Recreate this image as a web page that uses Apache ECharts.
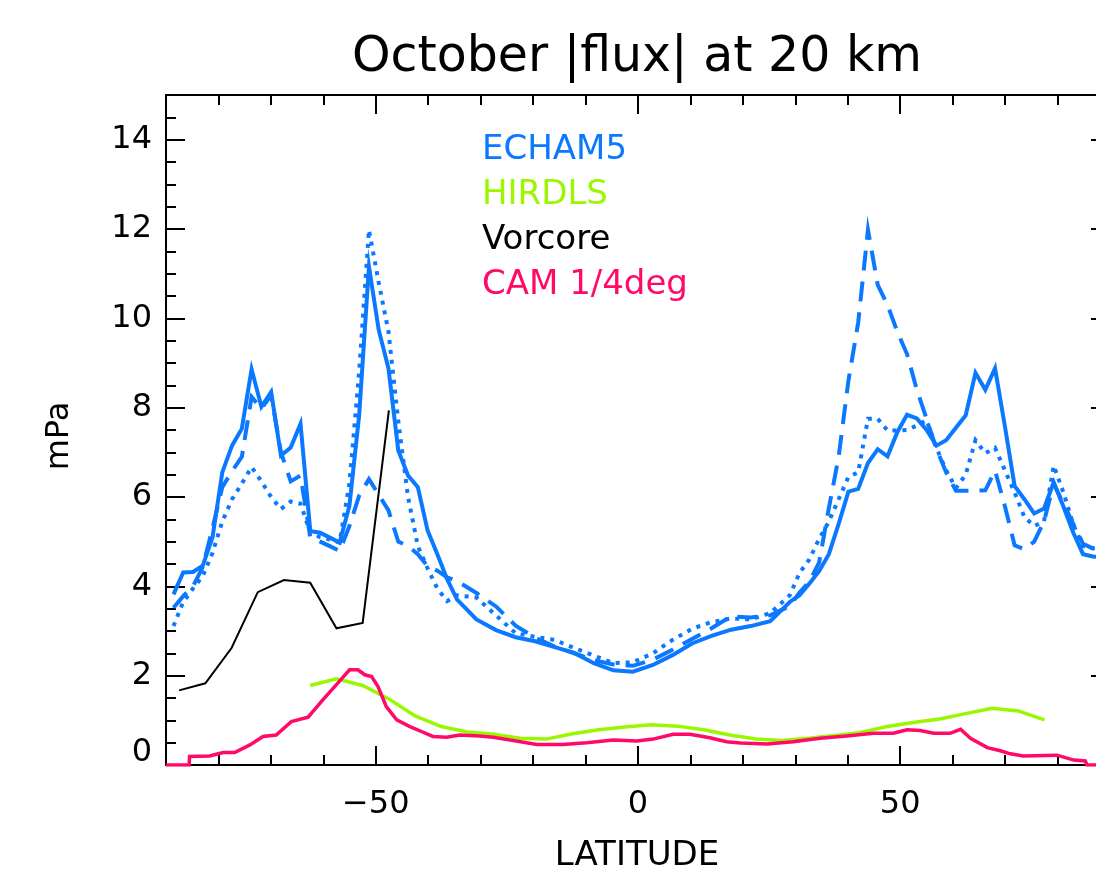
<!DOCTYPE html>
<html>
<head>
<meta charset="utf-8">
<title>October |flux| at 20 km</title>
<script src="https://cdn.jsdelivr.net/npm/echarts@6/dist/echarts.min.js"></script>
<style>
html, body { margin: 0; padding: 0; background: #fff; overflow: hidden; }
#chart { width: 1110px; height: 878px; }
</style>
</head>
<body>
<div id="chart"></div>
<script>
// ECHAM5 latitudes (T63 grid, sparser in the tropics)
var echamLat = [-88.57, -86.72, -84.86, -83.0, -81.13, -79.27, -77.41, -75.54, -73.68, -71.81,
	-69.95, -68.08, -66.22, -64.35, -62.49, -60.62, -58.76, -56.9, -55.03, -53.17,
	-51.3, -49.44, -47.58, -45.71, -43.85, -41.98, -40.12, -38.26, -36.39, -34.53,
	-30.8, -27.07, -23.34, -19.62, -15.89, -12.16, -8.43, -4.7, -0.97, 2.84,
	6.57, 10.3, 14.02, 17.75, 21.48, 25.21, 28.94, 30.8, 32.66, 34.53,
	36.39, 38.26, 40.12, 41.98, 43.85, 45.71, 47.58, 49.44, 51.3, 53.17,
	55.03, 56.9, 58.76, 60.62, 62.49, 64.35, 66.22, 68.08, 69.95, 71.81,
	73.68, 75.54, 77.41, 79.27, 81.13, 83.0, 84.86, 86.72, 88.57];

var echamSolid = [3.82, 4.31, 4.32, 4.46, 5.1, 6.55, 7.15, 7.53, 8.86, 8.02,
	8.35, 6.93, 7.11, 7.64, 5.24, 5.2, 5.09, 4.98, 5.8, 7.83,
	11.16, 9.74, 8.88, 7.04, 6.48, 6.22, 5.25, 4.72, 4.16, 3.71,
	3.26, 3.02, 2.86, 2.77, 2.64, 2.51, 2.28, 2.12, 2.09, 2.24,
	2.46, 2.72, 2.89, 3.03, 3.11, 3.22, 3.65, 3.8, 4.06, 4.34,
	4.72, 5.4, 6.12, 6.18, 6.76, 7.07, 6.91, 7.45, 7.84, 7.76,
	7.5, 7.15, 7.27, 7.55, 7.83, 8.78, 8.4, 8.88, 7.59, 6.25,
	5.95, 5.63, 5.74, 6.33, 5.78, 5.2, 4.72, 4.67, 4.65];

var echamDashed = [3.52, 3.78, 4.0, 4.43, 5.3, 6.22, 6.58, 6.9, 8.24, 7.98,
	8.28, 7.0, 6.35, 6.48, 5.1, 5.0, 4.9, 4.79, 5.35, 6.03,
	6.4, 6.05, 5.7, 5.0, 4.9, 4.72, 4.45, 4.35, 4.2, 4.12,
	3.85, 3.55, 3.12, 2.85, 2.65, 2.5, 2.35, 2.25, 2.22, 2.36,
	2.58, 2.82, 3.06, 3.33, 3.3, 3.35, 3.56, 3.86, 4.1, 4.53,
	5.75, 6.9, 8.6, 9.9, 11.98, 10.75, 10.3, 9.7, 9.2, 8.4,
	7.75, 7.08, 6.55, 6.14, 6.14, 6.14, 6.15, 6.59, 5.8, 4.92,
	4.83, 5.0, 5.45, 6.3, 5.85, 5.4, 4.95, 4.85, 4.8];

var echamDotted = [3.11, 3.65, 3.95, 4.23, 4.75, 5.45, 5.95, 6.3, 6.67, 6.35,
	6.0, 5.73, 5.9, 5.85, 5.2, 5.1, 5.05, 4.98, 6.3, 8.8,
	11.98, 10.8, 9.7, 7.7, 6.0, 4.9, 4.4, 3.95, 3.67, 3.8,
	3.75, 3.35, 2.95, 2.87, 2.8, 2.62, 2.45, 2.28, 2.3, 2.5,
	2.8, 3.05, 3.2, 3.28, 3.26, 3.4, 3.8, 4.3, 4.6, 5.06,
	5.45, 5.95, 6.45, 6.55, 7.75, 7.75, 7.49, 7.49, 7.5, 7.6,
	7.72, 7.1, 6.6, 6.2, 6.5, 7.27, 6.98, 7.1, 6.6, 6.1,
	5.55, 5.35, 5.45, 6.7, 6.1, 5.38, 4.9, 4.85, 4.85];

// HIRDLS, 5 degree bins
var hirdlsLat = [-62.5, -57.5, -52.5, -47.5, -42.5, -37.5, -32.5, -27.5, -22.5, -17.5,
	-12.5, -7.5, -2.5, 2.5, 7.5, 12.5, 17.5, 22.5, 27.5, 32.5,
	37.5, 42.5, 47.5, 52.5, 57.5, 62.5, 67.5, 72.5, 77.5];
var hirdlsVal = [1.78, 1.93, 1.78, 1.48, 1.1, 0.86, 0.74, 0.69, 0.6, 0.58,
	0.7, 0.79, 0.85, 0.9, 0.87, 0.79, 0.67, 0.58, 0.55, 0.6,
	0.66, 0.73, 0.86, 0.95, 1.03, 1.15, 1.27, 1.21, 1.01];

// Vorcore balloons
var vorcoreLat = [-87.5, -82.5, -77.5, -72.5, -67.5, -62.5, -57.5, -52.5, -47.5];
var vorcoreVal = [1.67, 1.83, 2.62, 3.87, 4.14, 4.08, 3.06, 3.18, 7.94];

// CAM 1/4 deg
var camLat = [-90, -85.6, -85.5, -81.7, -79.1, -76.9, -74, -71.5, -69, -66.1,
	-62.9, -60.1, -57.5, -55, -53.4, -52.1, -50.8, -49.6, -48, -46,
	-43.5, -41.3, -39.1, -36.5, -34, -30.2, -27.6, -23.8, -19.3, -14.3,
	-9.8, -4.7, -0.2, 2.9, 6.7, 9.9, 13.7, 16.9, 19.5, 24.6,
	29.6, 34.7, 39.8, 44.9, 48.7, 51.3, 53.8, 56.4, 59.5, 61.5,
	63.4, 66.6, 69.1, 71, 73.5, 79.9, 83.1, 85.3, 85.6, 90];
var camVal = [0, 0, 0.19, 0.2, 0.28, 0.28, 0.45, 0.64, 0.67, 0.97,
	1.07, 1.46, 1.8, 2.13, 2.13, 2.02, 1.98, 1.76, 1.31, 1.01,
	0.86, 0.75, 0.64, 0.62, 0.67, 0.65, 0.62, 0.55, 0.46, 0.46,
	0.5, 0.56, 0.54, 0.58, 0.69, 0.69, 0.61, 0.52, 0.49, 0.47,
	0.52, 0.6, 0.65, 0.71, 0.71, 0.79, 0.77, 0.71, 0.71, 0.8,
	0.6, 0.39, 0.32, 0.25, 0.2, 0.22, 0.11, 0.09, 0, 0];

var xMajor = [-50, 0, 50];

var blue = '#0a78ff', green = '#99f800', pink = '#ff0a68';
var fontName = 'DejaVu Sans';

function pairs(xs, ys) {
	var out = [];
	for (var i = 0; i < xs.length; i++) {
		out.push([xs[i], ys[i]]);
	}
	return out;
}

function lineSeries(name, xs, ys, color, width, type) {
	return {
		name: name,
		type: 'line',
		data: pairs(xs, ys),
		showSymbol: false,
		symbol: 'none',
		lineStyle: { color: color, width: width, type: type || 'solid', cap: 'butt', join: 'miter' },
		z: 3
	};
}

// one axis for the long ticks, one for the short ones
function tickAxis(pos, major, opts) {
	var ax = {
		type: 'value',
		position: pos,
		axisLine: { show: major, onZero: false, lineStyle: { color: '#000', width: 2 } },
		axisTick: { show: true, inside: true, length: major ? 19 : 10, lineStyle: { color: '#000', width: 2 } },
		axisLabel: { show: false },
		splitLine: { show: false }
	};
	for (var k in opts) ax[k] = opts[k];
	return ax;
}

var myChart = echarts.init(document.getElementById('chart'));

var xLab = tickAxis('bottom', true, { min: -90, max: 90 });
xLab.axisTick.customValues = xMajor;
xLab.axisLabel = {
	customValues: xMajor, margin: 24, color: '#000', fontFamily: fontName, fontSize: 32,
	formatter: function(v) { return String(v).replace('-', '\u2212'); }
};
var xTop = tickAxis('top', true, { min: -90, max: 90 });
xTop.axisTick.customValues = xMajor;

var yLab = tickAxis('left', true, { min: 0, max: 15, interval: 2 });
yLab.axisLabel = {
	margin: 14, color: '#000', fontFamily: fontName, fontSize: 32,
	showMaxLabel: false,
	formatter: function(v) { return v === 0 ? '{z|0}' : String(v); },
	rich: { z: { color: '#000', fontFamily: fontName, fontSize: 32, padding: [0, 0, 24, 0] } }
};

var option = {
	backgroundColor: '#fff',
	animation: false,
	grid: { left: 166, right: 0, top: 95, bottom: 113 },
	xAxis: [
		xLab,
		tickAxis('bottom', false, { min: -90, max: 90, interval: 10 }),
		xTop,
		tickAxis('top', false, { min: -90, max: 90, interval: 10 })
	],
	yAxis: [
		yLab,
		tickAxis('left', false, { min: 0, max: 15, interval: 0.5 }),
		tickAxis('right', true, { min: 0, max: 15, interval: 2 }),
		tickAxis('right', false, { min: 0, max: 15, interval: 0.5 })
	],
	graphic: [
		{ type: 'text', x: 637, y: 58,
			style: { text: 'October |flux| at 20 km', fill: '#000', font: '49px "DejaVu Sans"', align: 'center', verticalAlign: 'middle' } },
		{ type: 'text', x: 482, y: 150, style: { text: 'ECHAM5', fill: blue, font: '34px "DejaVu Sans"', verticalAlign: 'middle' } },
		{ type: 'text', x: 482, y: 195, style: { text: 'HIRDLS', fill: green, font: '34px "DejaVu Sans"', verticalAlign: 'middle' } },
		{ type: 'text', x: 482, y: 240, style: { text: 'Vorcore', fill: '#000', font: '34px "DejaVu Sans"', verticalAlign: 'middle' } },
		{ type: 'text', x: 482, y: 285, style: { text: 'CAM 1/4deg', fill: pink, font: '34px "DejaVu Sans"', verticalAlign: 'middle' } },
		{ type: 'text', x: 60, y: 436, rotation: Math.PI / 2,
			style: { text: 'mPa', fill: '#000', font: '32px "DejaVu Sans"', align: 'center', verticalAlign: 'middle' } },
		{ type: 'text', x: 637, y: 856,
			style: { text: 'LATITUDE', fill: '#000', font: '34px "DejaVu Sans"', align: 'center', verticalAlign: 'middle' } }
	],
	series: [
		lineSeries('ECHAM5 dotted', echamLat, echamDotted, blue, 4, [4, 6]),
		lineSeries('ECHAM5 dashed', echamLat, echamDashed, blue, 4, [20, 11]),
		lineSeries('ECHAM5', echamLat, echamSolid, blue, 4),
		lineSeries('HIRDLS', hirdlsLat, hirdlsVal, green, 3.5),
		lineSeries('Vorcore', vorcoreLat, vorcoreVal, '#000', 2),
		lineSeries('CAM 1/4deg', camLat, camVal, pink, 3.5)
	]
};

myChart.setOption(option);
</script>
</body>
</html>
